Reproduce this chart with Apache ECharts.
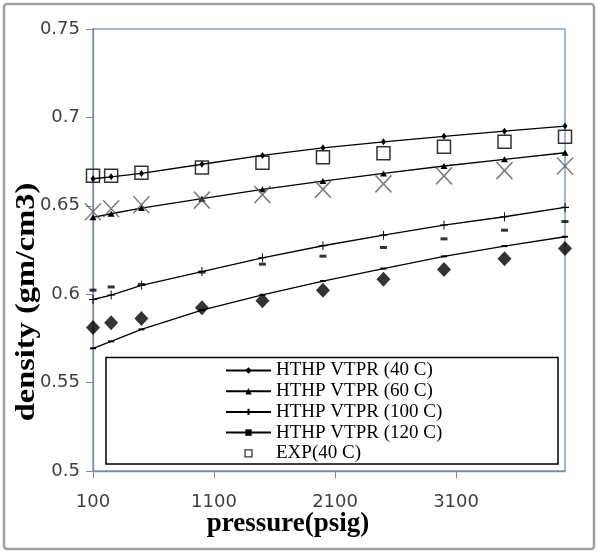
<!DOCTYPE html>
<html>
<head>
<meta charset="utf-8">
<script src="https://cdn.jsdelivr.net/npm/echarts@6/dist/echarts.min.js"></script>
<style>
html,body{margin:0;padding:0;background:#fff;}
#chart{width:598px;height:554px;}
</style>
</head>
<body>
<div id="chart"></div>
<script>
// ---- data ----
var pressure = [100, 250, 500, 1000, 1500, 2000, 2500, 3000, 3500, 4000];
var model40  = [0.6653, 0.6664, 0.6683, 0.6735, 0.6785, 0.6828, 0.6862, 0.6893, 0.6922, 0.6951];
var model60  = [0.6435, 0.6455, 0.6487, 0.6540, 0.6593, 0.6640, 0.6683, 0.6725, 0.6763, 0.6800];
var model100 = [0.5970, 0.5995, 0.6050, 0.6128, 0.6206, 0.6274, 0.6334, 0.6391, 0.6438, 0.6491];
var model120 = [0.5694, 0.5733, 0.5801, 0.5910, 0.5996, 0.6074, 0.6145, 0.6214, 0.6272, 0.6325];
var exp40    = [0.6670, 0.6670, 0.6687, 0.6717, 0.6743, 0.6774, 0.6797, 0.6834, 0.6862, 0.6890];
var exp60    = [0.6466, 0.6483, 0.6506, 0.6532, 0.6563, 0.6593, 0.6624, 0.6669, 0.6699, 0.6725];
var exp100   = [0.6023, 0.6041, 0.6055, 0.6125, 0.6170, 0.6215, 0.6264, 0.6313, 0.6362, 0.6411];
var exp120   = [0.5812, 0.5838, 0.5863, 0.5923, 0.5963, 0.6023, 0.6084, 0.6140, 0.6200, 0.6259];
var seriesNames = ['HTHP VTPR (40 C)', 'HTHP VTPR (60 C)', 'HTHP VTPR (100 C)', 'HTHP VTPR (120 C)', 'EXP(40 C)', 'EXP(60 C)', 'EXP(100 C)', 'EXP(120 C)'];
var xTitle = 'pressure(psig)';
var yTitle = 'density (gm/cm3)';

function pairs(ys) { return pressure.map(function (p, i) { return [p, ys[i]]; }); }

var chart = echarts.init(document.getElementById('chart'), null, {renderer: 'canvas'});

function lineSeries(name, ys, symbol, size, extraItem) {
  return {
    name: name, type: 'line', data: pairs(ys),
    smooth: false,
    symbol: symbol, symbolSize: size, showSymbol: true,
    lineStyle: {color: '#000', width: 1.3},
    itemStyle: Object.assign({color: '#000'}, extraItem || {}),
    emphasis: {disabled: true}, animation: false, z: 2
  };
}

var option = {
  animation: false,
  backgroundColor: '#fff',
  grid: {left: 93, top: 29, right: 33, bottom: 83, containLabel: false, outerBoundsMode: 'none',
         show: true, borderColor: '#7ea2d4', borderWidth: 1.5, backgroundColor: 'transparent'},
  xAxis: {
    type: 'value', min: 100, max: 4000, interval: 1000,
    axisLine: {show: true, lineStyle: {color: '#8a8a8a', width: 1.3}},
    axisTick: {show: true, length: 7, lineStyle: {color: '#8a8a8a'}},
    axisLabel: {showMaxLabel: false, color: '#404040', fontFamily: 'DejaVu Sans', fontSize: 18, margin: 22,
      formatter: function (v) { return String(v); }},
    splitLine: {show: false}
  },
  yAxis: {
    type: 'value', min: 0.5, max: 0.75, interval: 0.05,
    axisLine: {show: true, lineStyle: {color: '#8a8a8a', width: 1.3}},
    axisTick: {show: true, length: 7, lineStyle: {color: '#8a8a8a'}},
    axisLabel: {color: '#404040', fontFamily: 'DejaVu Sans', fontSize: 18, margin: 13,
      formatter: function (v) { return String(Number(v.toFixed(2))); }},
    splitLine: {show: false}
  },
  legend: {
    orient: 'vertical', left: 225, top: 361, padding: 0,
    itemWidth: 45, itemHeight: 8, itemGap: 1.7,
    textStyle: {fontFamily: 'Liberation Serif', fontSize: 19, color: '#000'},
    data: [
      seriesNames[0], seriesNames[1], seriesNames[2], seriesNames[3],
      {name: seriesNames[4], icon: 'path://M0,0L0,0M45,8L45,8M19,0.5L26,0.5L26,7.5L19,7.5Z',
       itemStyle: {color: 'transparent', borderColor: '#000', borderWidth: 1.3}}
    ],
    selectedMode: false
  },
  graphic: [
    {type: 'rect', silent: true, z: -10,
     shape: {x: 4, y: 4, width: 590, height: 545, r: 3},
     style: {fill: '#fff', stroke: '#a0a0a0', lineWidth: 2.5}},
    {type: 'rect', silent: true, z: 1,
     shape: {x: 106, y: 357.5, width: 452, height: 106.5},
     style: {fill: '#fff', stroke: '#000', lineWidth: 1.5}},
    {type: 'text', silent: true, x: 288, y: 524,
     style: {text: xTitle, fontFamily: 'Liberation Serif', fontWeight: 'bold', fontSize: 27,
             fill: '#000', align: 'center', verticalAlign: 'middle'}},
    {type: 'text', silent: true, x: 27, y: 302, rotation: Math.PI / 2, scaleX: 1.2,
     style: {text: yTitle, fontFamily: 'Liberation Serif', fontWeight: 'bold', fontSize: 27,
             fill: '#000', align: 'center', verticalAlign: 'middle'}}
  ],
  series: [
    lineSeries(seriesNames[0], model40, 'diamond', [5, 7]),
    lineSeries(seriesNames[1], model60, 'triangle', [7, 6]),
    lineSeries(seriesNames[2], model100, 'path://M4,0L4,9M0,4.5L8,4.5', [8, 9], {borderColor: '#000', borderWidth: 1}),
    lineSeries(seriesNames[3], model120, 'path://M0,0L6,0L6,2L0,2Z', [6, 2]),
    {name: seriesNames[4], type: 'scatter', data: pairs(exp40), symbol: 'rect', symbolSize: 13,
     itemStyle: {color: 'transparent', borderColor: '#000', borderWidth: 1.5}, z: 3, emphasis: {disabled: true}},
    {name: seriesNames[5], type: 'scatter', data: pairs(exp60), symbol: 'path://M0,0L16,17M16,0L0,17', symbolSize: [16, 17],
     itemStyle: {color: 'transparent', borderColor: '#5a5a5a', borderWidth: 1.5}, z: 3, emphasis: {disabled: true}},
    {name: seriesNames[6], type: 'scatter', data: pairs(exp100), symbol: 'path://M0,0L7,0L7,3L0,3Z', symbolSize: [7, 3],
     itemStyle: {color: '#000'}, z: 3, emphasis: {disabled: true}},
    {name: seriesNames[7], type: 'scatter', data: pairs(exp120), symbol: 'diamond', symbolSize: [14, 15],
     itemStyle: {color: '#000'}, z: 3, emphasis: {disabled: true}}
  ]
};
chart.setOption(option);
</script>
</body>
</html>
